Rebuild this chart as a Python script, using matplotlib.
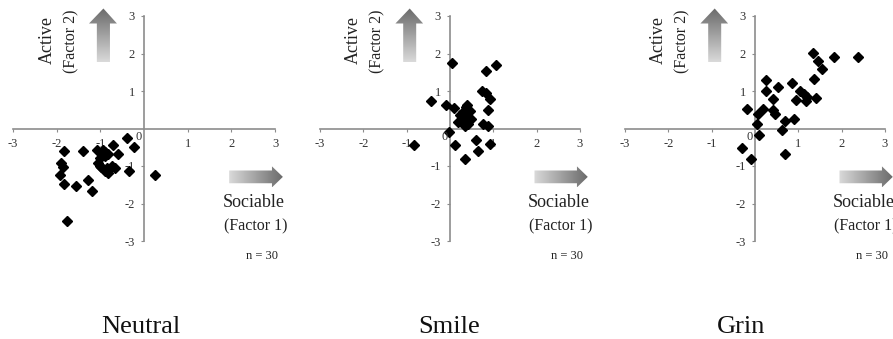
import matplotlib.pyplot as plt
import numpy as np
from matplotlib.colors import LinearSegmentedColormap
from matplotlib.patches import Polygon

plt.rcParams['font.family'] = ['Liberation Serif', 'DejaVu Serif']

# Factor scores per condition (Factor 1 = Sociable, Factor 2 = Active)
titles = ['Neutral', 'Smile', 'Grin']

neutral_x = [-0.38, -0.23, -0.70, -0.59, -1.39, -1.84, -0.34, 0.25, -1.89, -1.86,
             -1.92, -1.83, -1.56, -1.29, -1.18, -1.77, -1.08, -0.93, -0.90, -1.01,
             -0.89, -0.82, -1.05, -1.01, -0.85, -0.74, -0.89, -0.82, -0.66, -0.98]
neutral_y = [-0.25, -0.49, -0.44, -0.69, -0.60, -0.59, -1.14, -1.23, -0.92, -1.03,
             -1.23, -1.49, -1.54, -1.36, -1.67, -2.47, -0.56, -0.56, -0.62, -0.78,
             -0.74, -0.68, -0.92, -1.00, -1.05, -1.00, -1.14, -1.18, -1.05, -1.02]

smile_x = [0.05, 1.06, 0.82, -0.44, -0.10, 0.09, 0.75, 0.82, 0.92, 0.88,
           0.77, 0.88, -0.02, 0.12, 0.59, 0.64, 0.35, 0.92, -0.83, 0.37,
           0.46, 0.23, 0.27, 0.38, 0.48, 0.19, 0.35, 0.42, 0.31, 0.40]
smile_y = [1.75, 1.70, 1.53, 0.73, 0.64, 0.55, 1.00, 0.95, 0.79, 0.50,
           0.11, 0.06, -0.10, -0.44, -0.30, -0.60, -0.81, -0.41, -0.43, 0.57,
           0.48, 0.35, 0.21, 0.30, 0.26, 0.17, 0.08, 0.12, 0.44, 0.62]

grin_x = [1.35, 1.83, 2.38, 1.45, 1.55, 1.37, 1.41, 0.85, 1.04, 1.12,
          0.95, 1.18, 1.19, 0.25, 0.25, 0.52, 0.42, -0.19, 0.19, 0.08,
          0.42, 0.46, 0.69, 0.91, 0.05, 0.63, 0.10, -0.31, -0.10, 0.69]
grin_y = [2.02, 1.91, 1.91, 1.80, 1.60, 1.33, 0.82, 1.22, 1.00, 0.91,
          0.76, 0.73, 0.84, 1.29, 1.00, 1.11, 0.80, 0.51, 0.51, 0.40,
          0.49, 0.40, 0.20, 0.25, 0.13, -0.04, -0.16, -0.53, -0.80, -0.68]

data = [(neutral_x, neutral_y), (smile_x, smile_y), (grin_x, grin_y)]
n_label = 'n = 30'

ticks = [-3, -2, -1, 1, 2, 3]
tick_labels = ['-3', '-2', '-1', '1', '2', '3']

# layout in pixels: left edge of x=-3, pixels per unit, title centre
W, H = 893, 339
panels = [(13, 43.67, 141), (320, 43.33, 449), (625, 43.33, 741)]
y_bottom, y_unit = 241, 37.5
lim_hi = 3.3

grey = LinearSegmentedColormap.from_list('arrow', ['#dadada', '#6a6a6a'])


def grad_arrow(ax, verts, horizontal):
    poly = Polygon(verts, closed=True, facecolor='none', edgecolor='none')
    ax.add_patch(poly)
    xs = [v[0] for v in verts]
    ys = [v[1] for v in verts]
    g = np.linspace(0, 1, 256)
    img = g[None, :] if horizontal else g[:, None]
    im = ax.imshow(img, cmap=grey, origin='lower', aspect='auto', zorder=1,
                   extent=(min(xs), max(xs), min(ys), max(ys)))
    im.set_clip_path(poly)


fig = plt.figure(figsize=(W / 100, H / 100), dpi=100)

for (x, y), title, (left, xu, tx) in zip(data, titles, panels):
    ax = fig.add_axes([left / W, (H - y_bottom) / H,
                       (3 + lim_hi) * xu / W, (3 + lim_hi) * y_unit / H])

    # gradient arrows
    grad_arrow(ax, [(-1.08, 1.76), (-0.78, 1.76), (-0.78, 2.8), (-0.62, 2.8),
                    (-0.93, 3.2), (-1.26, 2.8), (-1.08, 2.8)], horizontal=False)
    grad_arrow(ax, [(1.95, -1.46), (2.93, -1.46), (2.93, -1.57), (3.18, -1.29),
                    (2.93, -1.01), (2.93, -1.12), (1.95, -1.12)], horizontal=True)

    ax.plot(x, y, 'D', color='black', ms=5, zorder=3, clip_on=False)

    ax.set_xlim(-3, lim_hi)
    ax.set_ylim(-3, lim_hi)
    for side in ['top', 'right']:
        ax.spines[side].set_visible(False)
    for side in ['left', 'bottom']:
        ax.spines[side].set_position(('data', 0))
        ax.spines[side].set_bounds(-3, 3)
        ax.spines[side].set_color('#8c8c8c')
        ax.spines[side].set_linewidth(1.2)
    ax.set_xticks(ticks)
    ax.set_xticklabels(tick_labels)
    ax.set_yticks(ticks)
    ax.set_yticklabels(tick_labels)
    ax.tick_params(direction='out', length=2.5, width=0.8, color='#8c8c8c',
                   labelsize=9, labelcolor='#333333')
    ax.tick_params(axis='x', pad=4.5)
    ax.tick_params(axis='y', pad=4)
    ax.text(-0.06, -0.08, '0', ha='right', va='top', fontsize=9, color='#333333')
    ax.patch.set_visible(False)

    ax.text(-2.22, 2.37, 'Active', rotation=90, ha='center', va='center',
            fontsize=13, color='#222222')
    ax.text(-1.67, 2.32, '(Factor 2)', rotation=90, ha='center', va='center',
            fontsize=11.5, color='#222222')
    ax.text(2.52, -1.97, 'Sociable', ha='center', va='center',
            fontsize=13, color='#222222')
    ax.text(2.55, -2.61, '(Factor 1)', ha='center', va='center',
            fontsize=11.5, color='#222222')
    ax.text(2.70, -3.39, n_label, ha='center', va='center',
            fontsize=9, color='#222222')

    fig.text(tx / W, (H - 333) / H, title, ha='center', va='baseline',
             fontsize=19, color='#111111')

fig.savefig('out.png', dpi=100)
